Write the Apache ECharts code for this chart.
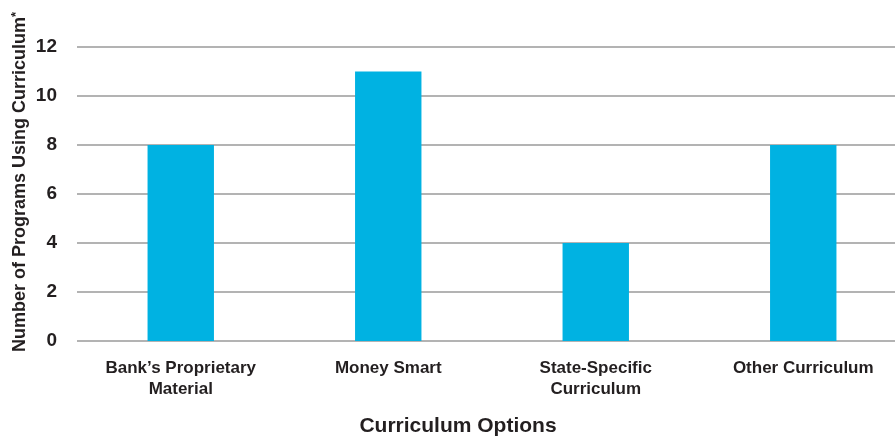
<!DOCTYPE html>
<html><head><meta charset="utf-8">
<script src="https://cdn.jsdelivr.net/npm/echarts@6/dist/echarts.min.js"></script>
<style>html,body{margin:0;padding:0;background:#fff}#c{width:895px;height:437px}</style>
</head><body><div id="c"></div>
<script>
const categories = ["Bank\u2019s Proprietary\nMaterial", "Money Smart", "State-Specific\nCurriculum", "Other Curriculum"];
const values = [8, 11, 4, 8];
const yTicks = [0, 2, 4, 6, 8, 10, 12];
const xTitle = "Curriculum Options";
const yTitle = "Number of Programs Using Curriculum";

const chart = echarts.init(document.getElementById('c'), null, {renderer: 'canvas'});
const font = "'Liberation Sans', Arial, sans-serif";
chart.setOption({
  animation: false,
  grid: {left: 77, width: 830, top: 47, height: 294, containLabel: false, outerBoundsMode: 'none'},
  xAxis: {
    type: 'category', data: categories,
    axisLine: {show: false}, axisTick: {show: false},
    axisLabel: {color: '#231f20', fontFamily: font, fontWeight: 'bold', fontSize: 17, lineHeight: 21, margin: 17}
  },
  yAxis: {
    type: 'value', min: yTicks[0], max: yTicks[yTicks.length-1], interval: 2,
    axisLine: {show: false}, axisTick: {show: false},
    axisLabel: {color: '#231f20', fontFamily: font, fontWeight: 'bold', fontSize: 19, margin: 20},
    splitLine: {lineStyle: {color: '#9a9a9a', width: 1.5}}
  },
  graphic: [{
    type: 'text', x: 20, y: 182, rotation: Math.PI/2,
    style: {
      text: '{a|' + yTitle + '}{s|*}',
      rich: {
        a: {fontFamily: font, fontWeight: 'bold', fontSize: 18, fill: '#231f20'},
        s: {fontFamily: font, fontWeight: 'bold', fontSize: 13, fill: '#231f20', verticalAlign: 'top', padding: [0,0,7,0]}
      },
      align: 'center', verticalAlign: 'middle'
    }
  }, {
    type: 'text', x: 458, y: 426,
    style: {
      text: xTitle, fontFamily: font, fontWeight: 'bold', fontSize: 21, fill: '#231f20',
      align: 'center', verticalAlign: 'middle'
    }
  }],
  series: [{
    type: 'bar', data: values, barWidth: '32%',
    itemStyle: {color: '#00b2e2'}
  }]
});
</script></body></html>
